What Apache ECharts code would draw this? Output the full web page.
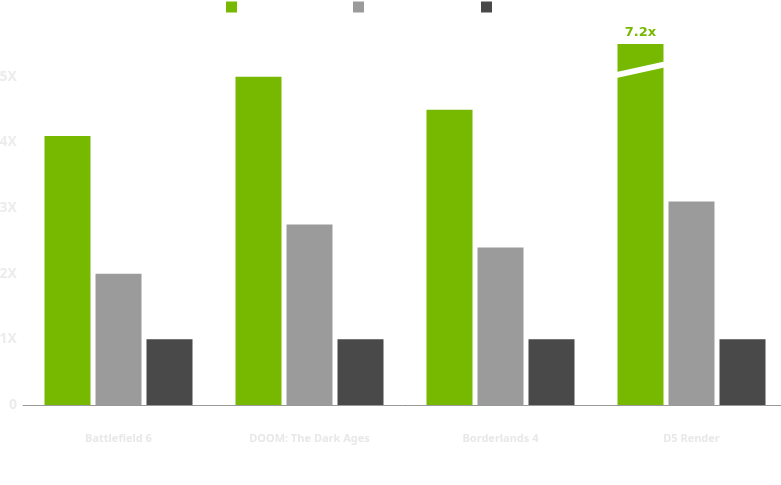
<!DOCTYPE html>
<html>
<head>
<meta charset="utf-8">
<script src="https://cdn.jsdelivr.net/npm/echarts@6/dist/echarts.min.js"></script>
<style>html,body{margin:0;padding:0;background:#fff;}#c{width:781px;height:485px;}</style>
</head>
<body>
<div id="c"></div>
<script>
const categories = ['Battlefield 6', 'DOOM: The Dark Ages', 'Borderlands 4', 'D5 Render'];
const seriesNames = ['DLSS 4.5 Dynamic MFG', 'DLSS 4 MFG 4X', 'Native'];
const greenValues = [4.1, 5.0, 4.5, 5.5];
const grayValues = [2.0, 2.75, 2.4, 3.1];
const darkValues = [1.0, 1.0, 1.0, 1.0];
const greenLabels = ['', '', '', '7.2x'];
const breakAt = [null, null, null, 5.1];
const yTicks = ['0', '1X', '2X', '3X', '4X', '5X'];

const GREEN = '#76b900', GRAY = '#9b9b9b', DARK = '#494949';
const BAR_W = 46, GAP = 5;
const legendLefts = [226, 353, 481];

const chart = echarts.init(document.getElementById('c'));
chart.setOption({
  backgroundColor: '#ffffff',
  animation: false,
  legend: seriesNames.map((n, i) => ({
    left: legendLefts[i], top: 1, padding: 0,
    itemWidth: 11, itemHeight: 11,
    icon: 'rect',
    data: [n],
    textStyle: { color: '#ffffff', fontSize: 12 }
  })),
  grid: { left: 23, width: 764, top: 44, bottom: 80, containLabel: false, outerBoundsMode: 'none' },
  xAxis: {
    type: 'category',
    data: categories,
    axisLine: { lineStyle: { color: '#999999', width: 1 } },
    axisTick: { show: false },
    axisLabel: { color: '#e8e8e8', fontSize: 11, fontWeight: 'bold', margin: 28, fontFamily: 'Noto Sans' }
  },
  yAxis: {
    type: 'value',
    min: 0, max: 5.5, interval: 1,
    splitLine: { show: false },
    axisLine: { show: false },
    axisTick: { show: false },
    axisLabel: {
      color: '#ececec', fontSize: 14, fontWeight: 'bold', margin: 6, fontFamily: 'Noto Sans',
      formatter: v => (Number.isInteger(v) && yTicks[v] !== undefined) ? yTicks[v] : ''
    }
  },
  series: [
    {
      name: seriesNames[0], type: 'bar', barWidth: BAR_W, barGap: (GAP / BAR_W * 100) + '%',
      itemStyle: { color: GREEN },
      data: greenValues,
      label: {
        show: true, position: 'top', distance: 5,
        color: GREEN, fontSize: 13, fontWeight: 'bold', fontFamily: 'DejaVu Sans',
        formatter: p => greenLabels[p.dataIndex]
      }
    },
    { name: seriesNames[1], type: 'bar', barWidth: BAR_W, itemStyle: { color: GRAY }, data: grayValues },
    { name: seriesNames[2], type: 'bar', barWidth: BAR_W, itemStyle: { color: DARK }, data: darkValues },
    {
      type: 'custom',
      silent: true,
      z: 10,
      data: breakAt.map((v, i) => [i, v]),
      renderItem: function (params, api) {
        const v = api.value(1);
        if (v === null || isNaN(v)) return;
        const c = api.coord([api.value(0), v]);
        const x0 = c[0] - BAR_W - GAP - BAR_W / 2 - 2;
        const x1 = x0 + BAR_W + 4;
        const slope = 0.22;
        const h = 6;
        const yL = c[1] + 2, yR = c[1] + 2 - slope * (BAR_W + 4);
        return {
          type: 'polygon',
          shape: { points: [[x0, yL], [x1, yR], [x1, yR + h], [x0, yL + h]] },
          style: { fill: '#ffffff' }
        };
      }
    }
  ]
});
</script>
</body>
</html>
